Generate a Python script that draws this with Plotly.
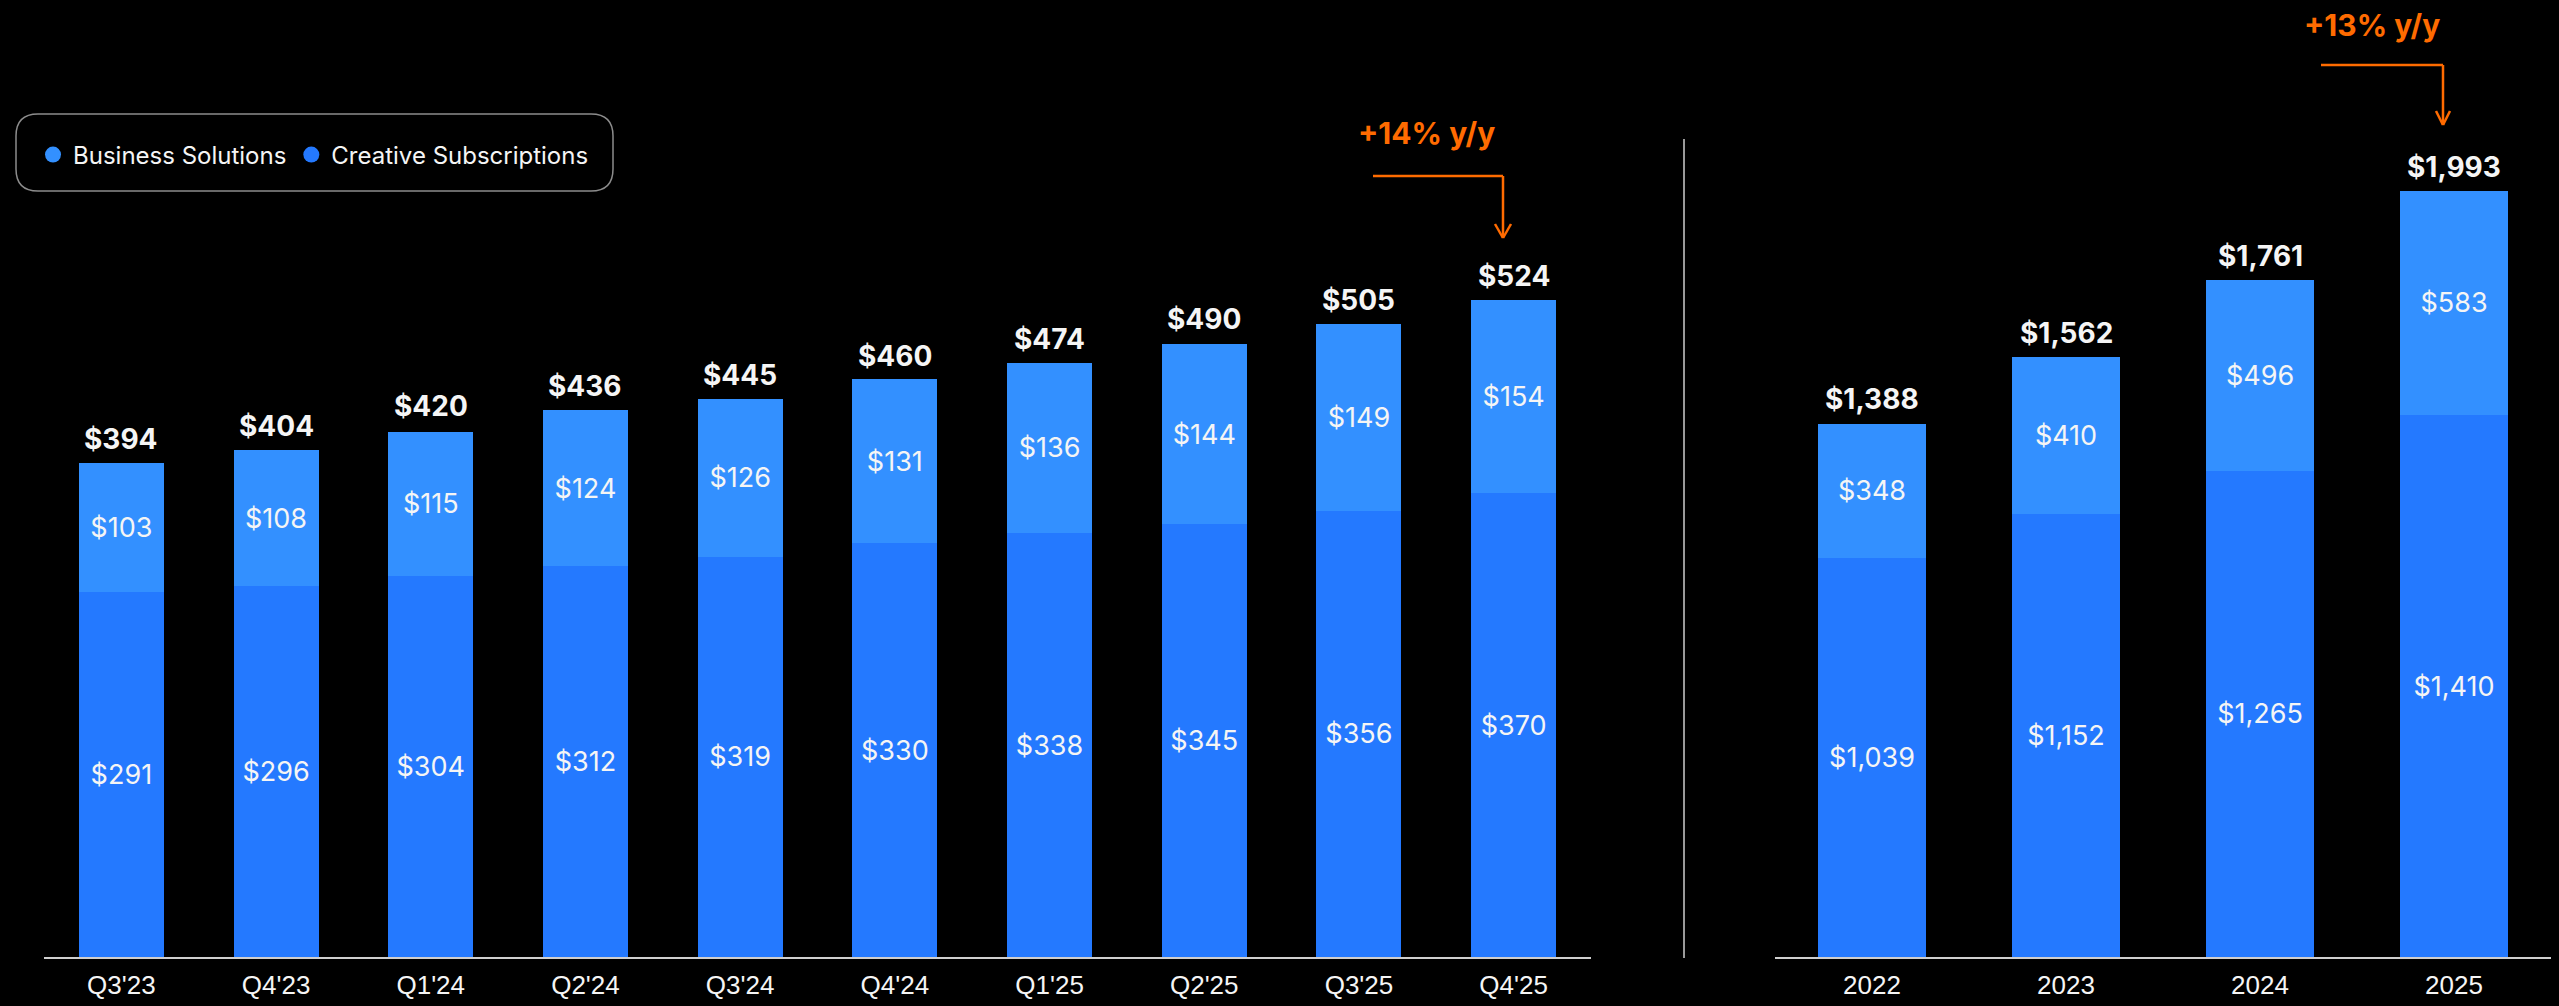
import plotly.graph_objects as go

# ---------------- data ----------------
quarters = ["Q3'23", "Q4'23", "Q1'24", "Q2'24", "Q3'24", "Q4'24", "Q1'25", "Q2'25", "Q3'25", "Q4'25"]
q_creative = [291, 296, 304, 312, 319, 330, 338, 345, 356, 370]
q_business = [103, 108, 115, 124, 126, 131, 136, 144, 149, 154]
q_total = [394, 404, 420, 436, 445, 460, 474, 490, 505, 524]

years = ["2022", "2023", "2024", "2025"]
y_creative = [1039, 1152, 1265, 1410]
y_business = [348, 410, 496, 583]
y_total = [1388, 1562, 1761, 1993]

q_growth = "+14% y/y"
y_growth = "+13% y/y"

# ---------------- style ----------------
W, H = 2559, 1006
C_CREATIVE = "#2479FF"
C_BUSINESS = "#3390FF"
ORANGE = "#FF6B00"
FONT = "Inter, Noto Sans, Liberation Sans, sans-serif"
TICK_FONT = "Liberation Sans Narrow, Arial Narrow, Liberation Sans, sans-serif"


def px(x):
    return x / W


def py(y):
    return 1 - y / H


def money(v):
    return "${:,}".format(v)


fig = go.Figure()

# Quarterly (left)
fig.add_bar(x=quarters, y=q_creative, name="Creative Subscriptions", marker_color=C_CREATIVE,
            text=[money(v) for v in q_creative], xaxis="x", yaxis="y", width=0.55, showlegend=False)
fig.add_bar(x=quarters, y=q_business, name="Business Solutions", marker_color=C_BUSINESS,
            text=[money(v) for v in q_business], xaxis="x", yaxis="y", width=0.55, showlegend=False)
# Annual (right)
fig.add_bar(x=years, y=y_creative, name="Creative Subscriptions", marker_color=C_CREATIVE,
            text=[money(v) for v in y_creative], xaxis="x2", yaxis="y2", width=0.556, showlegend=False)
fig.add_bar(x=years, y=y_business, name="Business Solutions", marker_color=C_BUSINESS,
            text=[money(v) for v in y_business], xaxis="x2", yaxis="y2", width=0.556, showlegend=False)

fig.update_traces(selector=dict(type="bar"), textposition="inside", insidetextanchor="middle",
                  constraintext="none", textangle=0,
                  textfont=dict(family=FONT, size=27, color="#F5F5F5"), marker_line_width=0)

# legend entries
fig.add_scatter(x=[None], y=[None], mode="markers", name="Business Solutions",
                marker=dict(color=C_BUSINESS, size=22, symbol="circle"), xaxis="x", yaxis="y")
fig.add_scatter(x=[None], y=[None], mode="markers", name="Creative Subscriptions",
                marker=dict(color=C_CREATIVE, size=22, symbol="circle"), xaxis="x", yaxis="y")

annotations = []
for i, tot in enumerate(q_total):
    annotations.append(dict(x=i, y=tot, xref="x", yref="y", text="<b>" + money(tot) + "</b>",
                            showarrow=False, yanchor="bottom", yshift=5,
                            font=dict(family=FONT, size=28, color="#F5F5F5")))
for i, tot in enumerate(y_total):
    annotations.append(dict(x=i, y=tot, xref="x2", yref="y2", text="<b>" + money(tot) + "</b>",
                            showarrow=False, yanchor="bottom", yshift=5,
                            font=dict(family=FONT, size=28, color="#F5F5F5")))

annotations.append(dict(x=px(1426), y=py(133), xref="paper", yref="paper", text="<b>" + q_growth + "</b>",
                        showarrow=False, xanchor="center", yanchor="middle",
                        font=dict(family=FONT, size=30, color=ORANGE)))
annotations.append(dict(x=px(2372), y=py(25), xref="paper", yref="paper", text="<b>" + y_growth + "</b>",
                        showarrow=False, xanchor="center", yanchor="middle",
                        font=dict(family=FONT, size=30, color=ORANGE)))

shapes = []


def seg(x0, y0, x1, y1, color=ORANGE, width=2.5):
    shapes.append(dict(type="line", xref="paper", yref="paper", x0=px(x0), y0=py(y0), x1=px(x1), y1=py(y1),
                       line=dict(color=color, width=width)))


# elbow arrows
seg(1373, 176, 1503, 176)
seg(1503, 176, 1503, 238)
seg(1495, 224, 1503, 238)
seg(1511, 224, 1503, 238)

seg(2321, 65, 2443, 65)
seg(2443, 65, 2443, 125)
seg(2436, 111, 2443, 125)
seg(2450, 111, 2443, 125)

# divider
seg(1684, 139, 1684, 958, color="#9A9A9A", width=2)

# rounded legend box
x0, x1, y0, y1, r = 16, 613, 114, 191, 22
path = (f"M {px(x0 + r)},{py(y0)} L {px(x1 - r)},{py(y0)} Q {px(x1)},{py(y0)} {px(x1)},{py(y0 + r)} "
        f"L {px(x1)},{py(y1 - r)} Q {px(x1)},{py(y1)} {px(x1 - r)},{py(y1)} "
        f"L {px(x0 + r)},{py(y1)} Q {px(x0)},{py(y1)} {px(x0)},{py(y1 - r)} "
        f"L {px(x0)},{py(y0 + r)} Q {px(x0)},{py(y0)} {px(x0 + r)},{py(y0)} Z")
shapes.append(dict(type="path", xref="paper", yref="paper", path=path,
                   line=dict(color="#8C8C8C", width=1.5)))

ydom = [49 / H, 1]
axis_common = dict(type="category", showgrid=False, zeroline=False, showline=True,
                   linecolor="#CFCFCF", linewidth=2, ticks="", ticklabelstandoff=4,
                   tickfont=dict(family=TICK_FONT, size=26, color="#F5F5F5"), fixedrange=True)

fig.update_layout(
    width=W, height=H,
    margin=dict(l=0, r=0, t=0, b=0),
    paper_bgcolor="#000000", plot_bgcolor="#000000",
    barmode="stack",
    xaxis=dict(domain=[44 / W, 1591 / W], range=[-0.5, 9.5], anchor="y", **axis_common),
    yaxis=dict(domain=ydom, range=[0, 957 / 1.254], visible=False, anchor="x"),
    xaxis2=dict(domain=[1775 / W, 2551 / W], range=[-0.5, 3.5], anchor="y2", **axis_common),
    yaxis2=dict(domain=ydom, range=[0, 957 / 0.3844], visible=False, anchor="x2"),
    legend=dict(orientation="h", x=px(33), y=py(155), xanchor="left", yanchor="middle",
                traceorder="normal", bgcolor="rgba(0,0,0,0)",
                font=dict(family=FONT, size=24, color="#F5F5F5"),
                itemsizing="trace", itemclick=False, itemdoubleclick=False),
    annotations=annotations,
    shapes=shapes,
    showlegend=True,
)

fig.write_html("out.html", config={"displayModeBar": False},
               post_script="document.body.style.margin='0';document.body.style.background='#000';")
